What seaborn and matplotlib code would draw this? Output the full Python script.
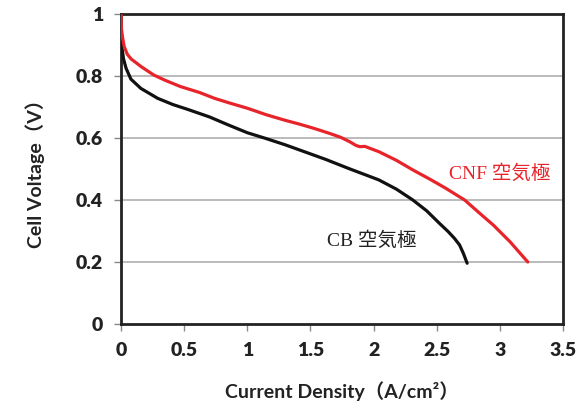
import matplotlib
matplotlib.use("Agg")
import matplotlib.pyplot as plt
import seaborn as sns
import pandas as pd

# CNF air electrode (red)
cnf_x = [0.0, 0.004, 0.012, 0.025, 0.05, 0.08, 0.16, 0.26, 0.35, 0.47, 0.62, 0.74, 0.85, 1.0, 1.15,
         1.3, 1.41, 1.52, 1.65, 1.74, 1.81, 1.86, 1.89, 1.93, 2.04, 2.18, 2.31, 2.45, 2.57, 2.72,
         2.84, 2.95, 3.08, 3.22]
cnf_y = [1.0, 0.95, 0.925, 0.895, 0.87, 0.855, 0.83, 0.803, 0.786, 0.766, 0.747, 0.728, 0.714, 0.696, 0.675,
         0.657, 0.645, 0.632, 0.615, 0.602, 0.588, 0.576, 0.572, 0.573, 0.556, 0.528, 0.497, 0.466, 0.438, 0.40,
         0.357, 0.318, 0.265, 0.20]
# CB air electrode (black)
cb_x = [0.0, 0.004, 0.01, 0.02, 0.04, 0.078, 0.157, 0.29, 0.41, 0.53, 0.7, 0.85, 1.0, 1.15, 1.3, 1.45,
        1.62, 1.8, 2.04, 2.18, 2.31, 2.42, 2.52, 2.59, 2.64, 2.68, 2.71, 2.74]
cb_y = [0.935, 0.905, 0.884, 0.855, 0.825, 0.79, 0.76, 0.728, 0.708, 0.692, 0.668, 0.642, 0.617, 0.598, 0.578, 0.556,
        0.531, 0.502, 0.465, 0.435, 0.40, 0.365, 0.325, 0.298, 0.276, 0.255, 0.228, 0.196]

x_ticks = [0, 0.5, 1, 1.5, 2, 2.5, 3, 3.5]
x_ticklabels = ["0", "0.5", "1", "1.5", "2", "2.5", "3", "3.5"]
y_ticks = [0, 0.2, 0.4, 0.6, 0.8, 1.0]
y_ticklabels = ["0", "0.2", "0.4", "0.6", "0.8", "1"]

sns.set_theme(style="white")
plt.rcParams['font.family'] = ['Lato', 'Noto Sans CJK JP', 'DejaVu Sans']

fig = plt.figure(figsize=(5.86, 4.08), dpi=100)
ax = fig.add_axes([0.2065, 0.2059, 0.7545, 0.7598])

red = "#E8242B"
df_cnf = pd.DataFrame({"x": cnf_x, "y": cnf_y})
df_cb = pd.DataFrame({"x": cb_x, "y": cb_y})
sns.lineplot(data=df_cb, x="x", y="y", ax=ax, color="#111111", lw=2.3, sort=False, estimator=None, zorder=3)
sns.lineplot(data=df_cnf, x="x", y="y", ax=ax, color=red, lw=2.3, sort=False, estimator=None, zorder=4)

ax.set_xlim(0, 3.5)
ax.set_ylim(0, 1.0)
ax.set_xticks(x_ticks)
ax.set_xticklabels(x_ticklabels)
ax.set_yticks(y_ticks)
ax.set_yticklabels(y_ticklabels)
for g in [0.2, 0.4, 0.6, 0.8]:
    ax.axhline(g, color="#BBBBBB", lw=1.4, zorder=1)

for s in ax.spines.values():
    s.set_color("#222222")
    s.set_linewidth(2.0)
    s.set_visible(True)

ax.tick_params(axis="both", which="both", direction="out", length=5, width=1, color="#888888",
               labelsize=14, pad=8, bottom=True, left=True)
for lab in ax.get_xticklabels() + ax.get_yticklabels():
    lab.set_fontweight("heavy")
    lab.set_color("#222222")

ax.set_xlabel("Current Density（A/cm²）", fontsize=14, fontweight="bold", color="#222222", labelpad=16)
ax.set_ylabel("Cell Voltage（V）", fontsize=14, fontweight="bold", color="#222222", labelpad=22)

serif = ['Liberation Serif', 'Noto Sans CJK JP']
ax.text(2.6, 0.484, "CNF 空気極", color=red, fontsize=14, family=serif, ha="left", va="center")
ax.text(1.63, 0.27, "CB 空気極", color="#222222", fontsize=14, family=serif, ha="left", va="center")

fig.savefig("out.png", dpi=100)
